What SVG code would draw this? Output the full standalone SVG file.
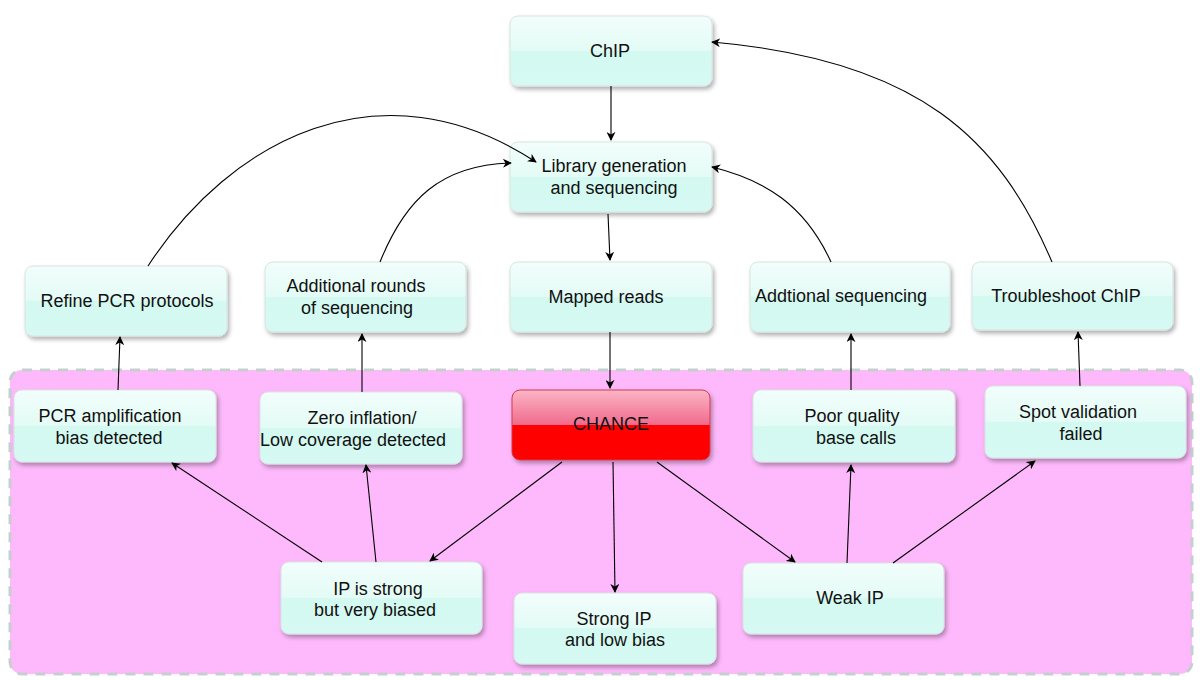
<svg xmlns="http://www.w3.org/2000/svg" width="1200" height="680" viewBox="0 0 1200 680">
<defs>
<linearGradient id="g" x1="0" y1="0" x2="0" y2="1">
<stop offset="0" stop-color="#f2fefb"/>
<stop offset="0.5" stop-color="#e3fbf6"/>
<stop offset="0.5" stop-color="#d3f9f1"/>
<stop offset="1" stop-color="#d6faf3"/>
</linearGradient>
<linearGradient id="r" x1="0" y1="0" x2="0" y2="1">
<stop offset="0" stop-color="#fbb6c6"/>
<stop offset="0.5" stop-color="#f06a8c"/>
<stop offset="0.5" stop-color="#ff0000"/>
<stop offset="1" stop-color="#ff0000"/>
</linearGradient>
<filter id="sh" x="-10%" y="-10%" width="130%" height="140%">
<feDropShadow dx="2" dy="3" stdDeviation="2" flood-color="#000" flood-opacity="0.3"/>
</filter>
<marker id="a" viewBox="0 0 10 10" refX="9" refY="5" markerWidth="9" markerHeight="9" markerUnits="userSpaceOnUse" orient="auto">
<path d="M0,0 L10,5 L0,10 L3,5 z" fill="#000"/>
</marker>
</defs>
<style>
.n{fill:url(#g);stroke:#d8e4e2;stroke-width:1;filter:url(#sh)}
.t{font-family:"Liberation Sans",Arial,sans-serif;font-size:18px;fill:#111;text-anchor:middle}
.c{fill:none;stroke:#000;stroke-width:1.1;marker-end:url(#a)}
</style>
<rect width="1200" height="680" fill="#fff"/>
<rect x="10" y="370" width="1182" height="304" rx="12" fill="#fdb9fb" stroke="#c6cfcf" stroke-width="3" stroke-dasharray="10,8"/>

<g id="chip"><rect class="n" x="510" y="16" width="202" height="70" rx="8"/><text class="t" x="610" y="57">ChIP</text></g>
<g id="library"><rect class="n" x="510" y="142" width="202" height="70" rx="8"/><text class="t" x="614" y="172">Library generation</text><text class="t" x="614" y="194">and sequencing</text></g>
<g id="refine"><rect class="n" x="25" y="266" width="202" height="70" rx="8"/><text class="t" x="127" y="307">Refine PCR protocols</text></g>
<g id="rounds"><rect class="n" x="265" y="262" width="201" height="70" rx="8"/><text class="t" x="356" y="292">Additional rounds</text><text class="t" x="357" y="314">of sequencing</text></g>
<g id="mapped"><rect class="n" x="510" y="262" width="202" height="70" rx="8"/><text class="t" x="606" y="303">Mapped reads</text></g>
<g id="addseq"><rect class="n" x="750" y="262" width="200" height="70" rx="8"/><text class="t" x="841" y="302">Addtional sequencing</text></g>
<g id="trouble"><rect class="n" x="972" y="262" width="201" height="68" rx="8"/><text class="t" x="1066" y="302">Troubleshoot ChIP</text></g>
<g id="pcr"><rect class="n" x="14" y="390" width="202" height="72" rx="8"/><text class="t" x="110" y="422">PCR amplification</text><text class="t" x="109" y="444">bias detected</text></g>
<g id="zero"><rect class="n" x="260" y="392" width="202" height="72" rx="8"/><text class="t" x="362" y="424">Zero inflation/</text><text class="t" x="353" y="446">Low coverage detected</text></g>
<g id="chance"><rect x="512" y="390" width="198" height="70" rx="8" fill="url(#r)" stroke="#d43a50" stroke-width="1" filter="url(#sh)"/><text class="t" x="611" y="430">CHANCE</text></g>
<g id="poor"><rect class="n" x="753" y="390" width="202" height="72" rx="8"/><text class="t" x="852" y="422">Poor quality</text><text class="t" x="856" y="444">base calls</text></g>
<g id="spot"><rect class="n" x="985" y="386" width="201" height="72" rx="8"/><text class="t" x="1078" y="418">Spot validation</text><text class="t" x="1081" y="440">failed</text></g>
<g id="ipstrong"><rect class="n" x="281" y="562" width="201" height="72" rx="8"/><text class="t" x="378" y="595">IP is strong</text><text class="t" x="375" y="616">but very biased</text></g>
<g id="stronglow"><rect class="n" x="514" y="593" width="202" height="71" rx="8"/><text class="t" x="614" y="625">Strong IP</text><text class="t" x="615" y="646">and low bias</text></g>
<g id="weak"><rect class="n" x="743" y="563" width="201" height="71" rx="8"/><text class="t" x="850" y="604">Weak IP</text></g>

<g id="connectors">
<path class="c" d="M611,86 L611,140"/>
<path class="c" d="M608,214 L610,260"/>
<path class="c" d="M610,332 L610,388"/>
<path class="c" d="M562,462 L430,561"/>
<path class="c" d="M613,462 L615,592"/>
<path class="c" d="M657,462 L795,562"/>
<path class="c" d="M322,562 L172,463"/>
<path class="c" d="M376,562 L366,465"/>
<path class="c" d="M847,563 L851,465"/>
<path class="c" d="M893,563 L1035,461"/>
<path class="c" d="M118,390 L120,337"/>
<path class="c" d="M362,392 L362,334"/>
<path class="c" d="M851,390 L851,334"/>
<path class="c" d="M1080,386 L1078,332"/>
<path class="c" d="M148,266 C230,140 380,60 536,162"/>
<path class="c" d="M380,262 C405,200 440,165 511,163"/>
<path class="c" d="M831,262 C805,205 765,180 712,167"/>
<path class="c" d="M1052,262 C1000,140 920,60 712,42"/>
</g>
</svg>
